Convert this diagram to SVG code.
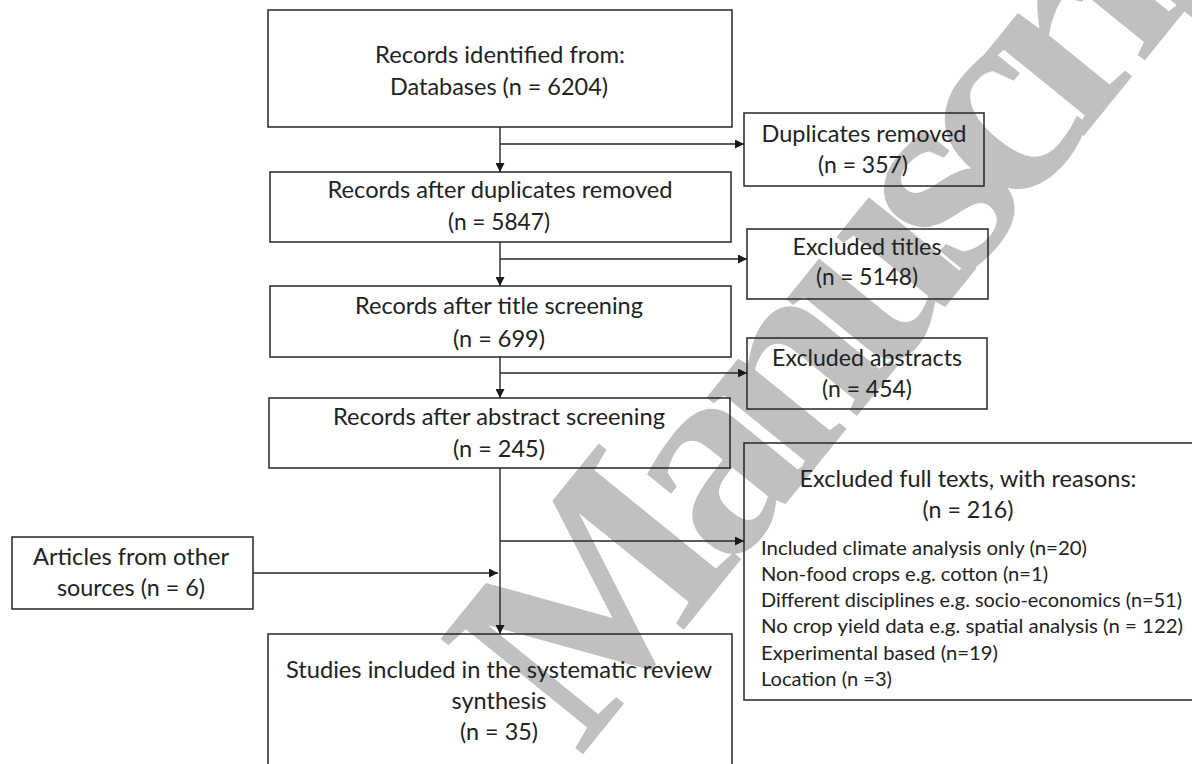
<svg xmlns="http://www.w3.org/2000/svg" width="1192" height="764" viewBox="0 0 1192 764">
<defs>
<style>
.bx{fill:none;stroke:#262626;stroke-width:1.5}
.ln{fill:none;stroke:#262626;stroke-width:1.4}
.t{font-family:Lato,"Open Sans","Liberation Sans",sans-serif;font-size:23px;fill:#222;text-anchor:middle}
.s{font-family:Lato,"Open Sans","Liberation Sans",sans-serif;font-size:20px;fill:#222}
.wm{font-family:"Liberation Serif","Times New Roman",serif;font-size:280px;font-weight:bold;letter-spacing:-26px;fill:#c0c0c0}
</style>
<marker id="ah" markerWidth="10" markerHeight="9" refX="9" refY="4.5" orient="auto" markerUnits="userSpaceOnUse">
<path d="M0,0 L9,4.5 L0,9 Z" fill="#1a1a1a"/>
</marker>
</defs>
<rect width="1192" height="764" fill="#ffffff"/>
<text class="wm" transform="translate(580,758) rotate(-51)">Manuscript</text>

<g id="n1">
<rect class="bx" x="268" y="10" width="464" height="117"/>
<text class="t" x="500" y="63" textLength="250" lengthAdjust="spacingAndGlyphs">Records identified from:</text>
<text class="t" x="499" y="95" textLength="218" lengthAdjust="spacingAndGlyphs">Databases (n = 6204)</text>
</g>
<g id="n2">
<rect class="bx" x="270" y="172" width="461" height="70"/>
<text class="t" x="500" y="198" textLength="345" lengthAdjust="spacingAndGlyphs">Records after duplicates removed</text>
<text class="t" x="499" y="230" textLength="102" lengthAdjust="spacingAndGlyphs">(n = 5847)</text>
</g>
<g id="n3">
<rect class="bx" x="270" y="286" width="461" height="71"/>
<text class="t" x="499" y="314" textLength="288" lengthAdjust="spacingAndGlyphs">Records after title screening</text>
<text class="t" x="499" y="347" textLength="92" lengthAdjust="spacingAndGlyphs">(n = 699)</text>
</g>
<g id="n4">
<rect class="bx" x="269" y="398" width="461" height="70"/>
<text class="t" x="499" y="425" textLength="332" lengthAdjust="spacingAndGlyphs">Records after abstract screening</text>
<text class="t" x="499" y="457" textLength="92" lengthAdjust="spacingAndGlyphs">(n = 245)</text>
</g>
<g id="n5">
<rect class="bx" x="268" y="634" width="464" height="150"/>
<text class="t" x="499" y="678" textLength="426" lengthAdjust="spacingAndGlyphs">Studies included in the systematic review</text>
<text class="t" x="499" y="709" textLength="95" lengthAdjust="spacingAndGlyphs">synthesis</text>
<text class="t" x="499" y="740" textLength="78" lengthAdjust="spacingAndGlyphs">(n = 35)</text>
</g>
<g id="dup">
<rect class="bx" x="744" y="113" width="240" height="73"/>
<text class="t" x="864" y="142" textLength="205" lengthAdjust="spacingAndGlyphs">Duplicates removed</text>
<text class="t" x="863" y="173" textLength="90" lengthAdjust="spacingAndGlyphs">(n = 357)</text>
</g>
<g id="titles">
<rect class="bx" x="747" y="229" width="241" height="70"/>
<text class="t" x="867" y="255" textLength="149" lengthAdjust="spacingAndGlyphs">Excluded titles</text>
<text class="t" x="867" y="285" textLength="102" lengthAdjust="spacingAndGlyphs">(n = 5148)</text>
</g>
<g id="abstracts">
<rect class="bx" x="747" y="338" width="240" height="71"/>
<text class="t" x="867" y="366" textLength="190" lengthAdjust="spacingAndGlyphs">Excluded abstracts</text>
<text class="t" x="867" y="397" textLength="90" lengthAdjust="spacingAndGlyphs">(n = 454)</text>
</g>
<g id="fulltext">
<rect class="bx" x="744" y="443" width="460" height="257"/>
<text class="t" x="968" y="487" textLength="337" lengthAdjust="spacingAndGlyphs">Excluded full texts, with reasons:</text>
<text class="t" x="968" y="518" textLength="91" lengthAdjust="spacingAndGlyphs">(n = 216)</text>
<text class="s" x="761" y="555" textLength="326" lengthAdjust="spacingAndGlyphs">Included climate analysis only (n=20)</text>
<text class="s" x="761" y="581" textLength="287" lengthAdjust="spacingAndGlyphs">Non-food crops e.g. cotton (n=1)</text>
<text class="s" x="761" y="607" textLength="421" lengthAdjust="spacingAndGlyphs">Different disciplines e.g. socio-economics (n=51)</text>
<text class="s" x="761" y="633" textLength="422" lengthAdjust="spacingAndGlyphs">No crop yield data e.g. spatial analysis (n = 122)</text>
<text class="s" x="761" y="660" textLength="237" lengthAdjust="spacingAndGlyphs">Experimental based (n=19)</text>
<text class="s" x="761" y="686" textLength="131" lengthAdjust="spacingAndGlyphs">Location (n =3)</text>
</g>
<g id="other">
<rect class="bx" x="12" y="537" width="241" height="72"/>
<text class="t" x="131" y="565" textLength="196" lengthAdjust="spacingAndGlyphs">Articles from other</text>
<text class="t" x="131" y="596" textLength="148" lengthAdjust="spacingAndGlyphs">sources (n = 6)</text>
</g>

<g id="connectors">
<path class="ln" d="M500,127 V172" marker-end="url(#ah)"/>
<path class="ln" d="M500,144 H744" marker-end="url(#ah)"/>
<path class="ln" d="M500,242 V286" marker-end="url(#ah)"/>
<path class="ln" d="M500,259 H747" marker-end="url(#ah)"/>
<path class="ln" d="M500,357 V398" marker-end="url(#ah)"/>
<path class="ln" d="M500,373 H747" marker-end="url(#ah)"/>
<path class="ln" d="M500,468 V634" marker-end="url(#ah)"/>
<path class="ln" d="M500,541 H744" marker-end="url(#ah)"/>
<path class="ln" d="M253,573 H498" marker-end="url(#ah)"/>
</g>
</svg>
